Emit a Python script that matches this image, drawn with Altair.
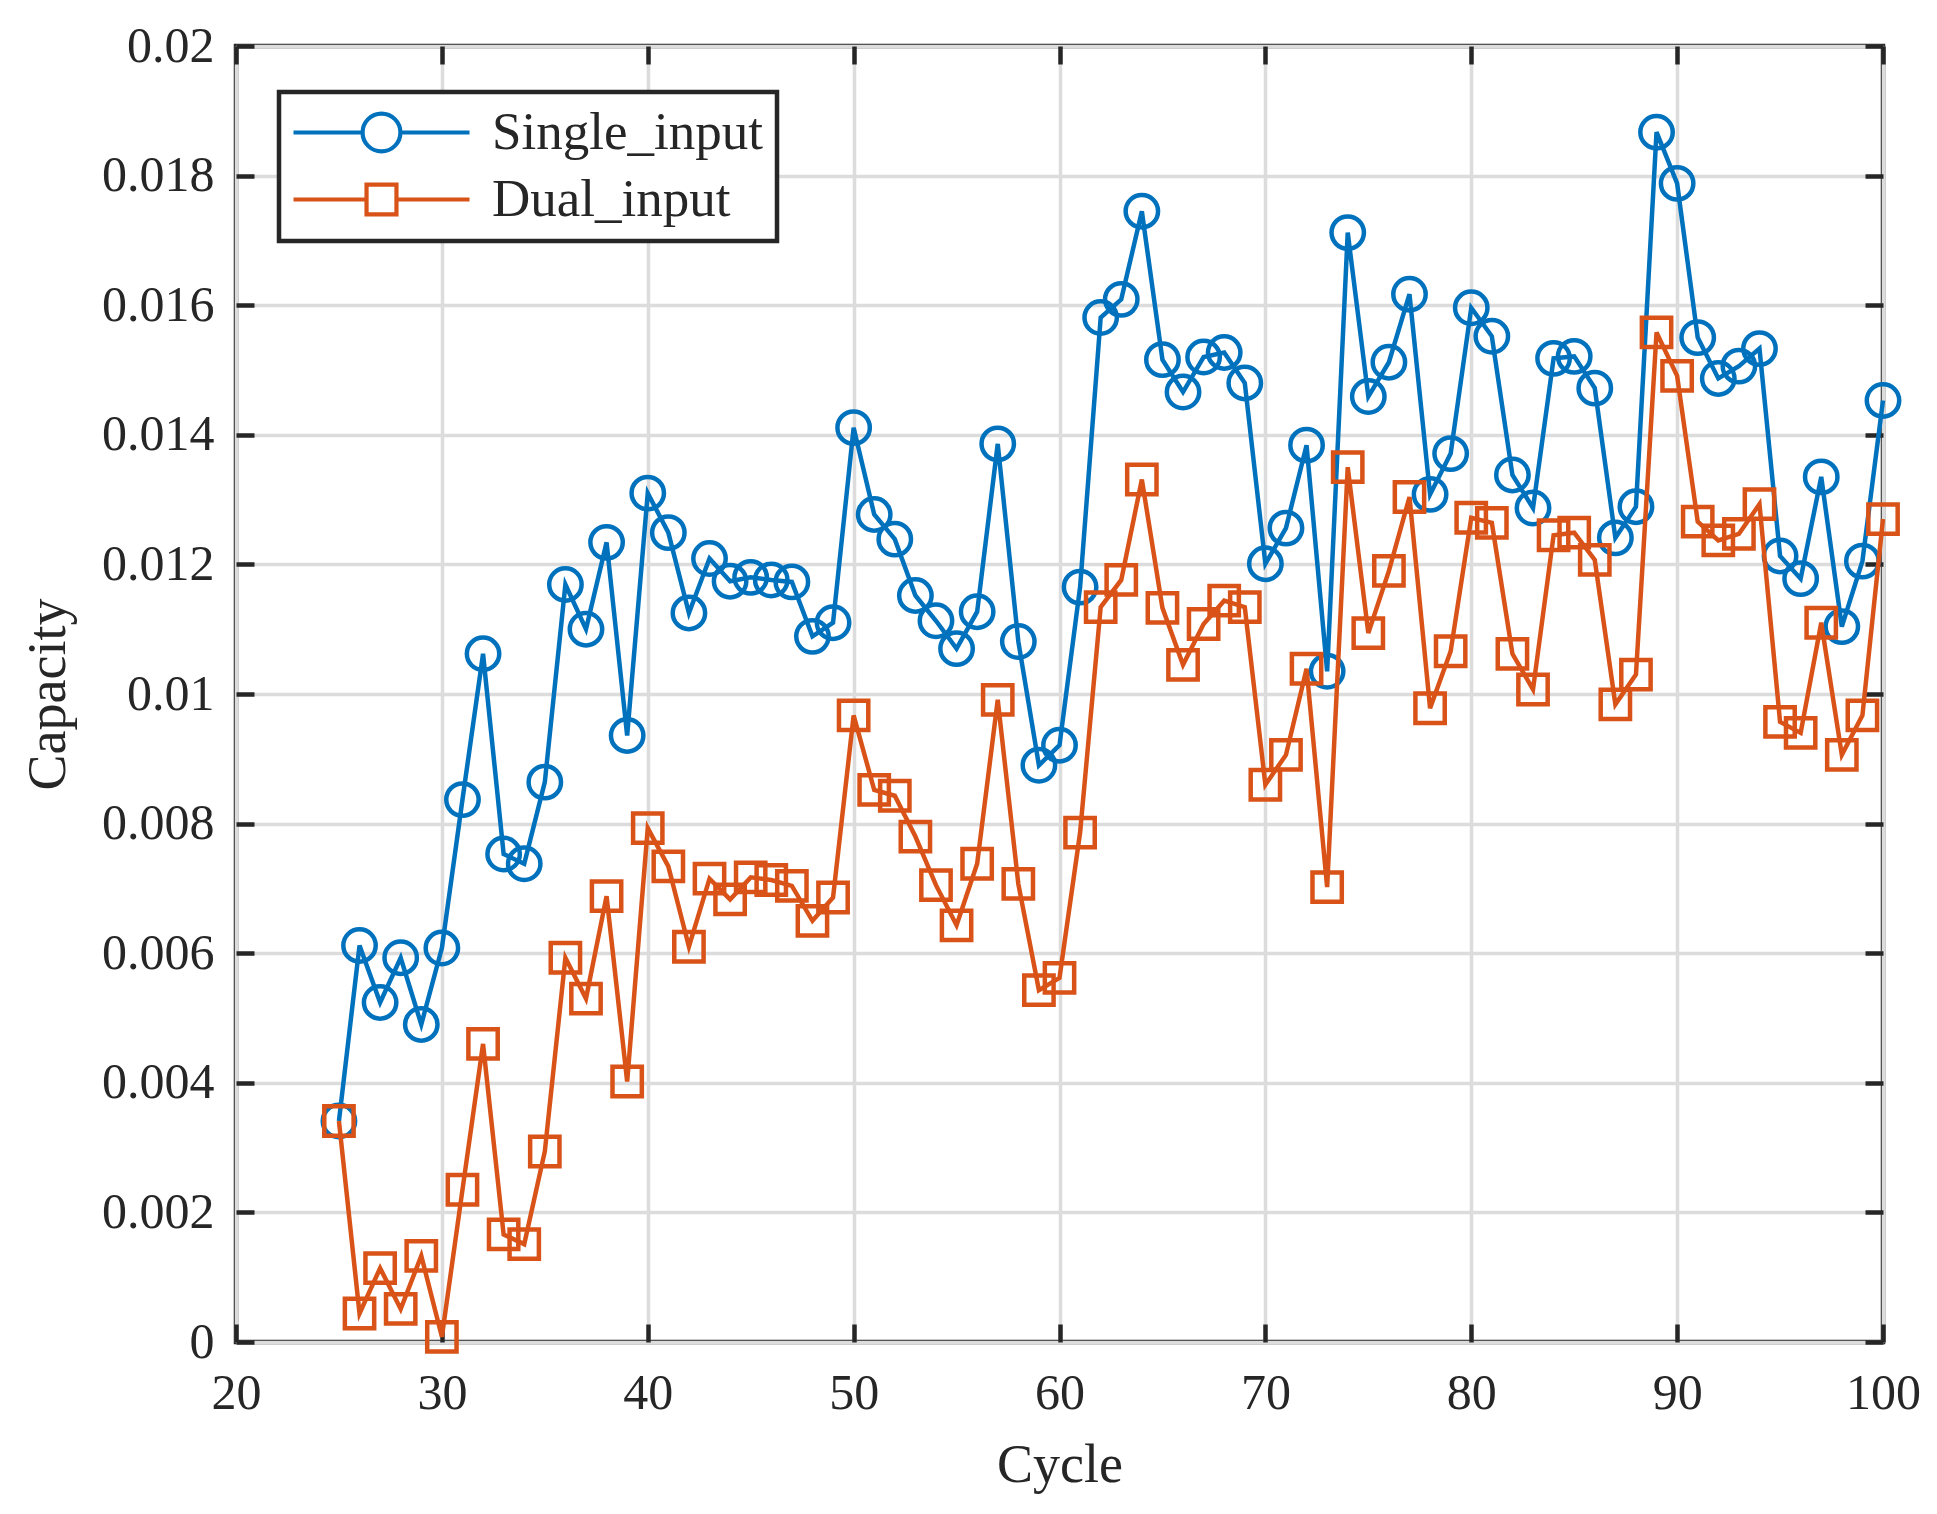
import altair as alt
import pandas as pd

cycles = list(range(25, 101))
single_input = [
    0.00341, 0.00612, 0.00524, 0.00593, 0.00490, 0.00608, 0.00837, 0.01062, 0.00753, 0.00738,
    0.00864, 0.01169, 0.01100, 0.01234, 0.00936, 0.01310, 0.01249, 0.01125, 0.01209, 0.01174,
    0.01180, 0.01176, 0.01173, 0.01089, 0.01110, 0.01411, 0.01277, 0.01239, 0.01152, 0.01113,
    0.01070, 0.01127, 0.01386, 0.01081, 0.00890, 0.00921, 0.01165, 0.01581, 0.01609, 0.01745,
    0.01516, 0.01466, 0.01520, 0.01527, 0.01480, 0.01201, 0.01256, 0.01384, 0.01035, 0.01712,
    0.01459, 0.01512, 0.01617, 0.01308, 0.01371, 0.01596, 0.01552, 0.01338, 0.01287, 0.01518,
    0.01521, 0.01472, 0.01241, 0.01289, 0.01867, 0.01788, 0.01550, 0.01487, 0.01506, 0.01533,
    0.01213, 0.01178, 0.01335, 0.01104, 0.01205, 0.01453,
]
dual_input = [
    0.00341, 0.00044, 0.00114, 0.00051, 0.00133, 0.00008, 0.00235, 0.00460, 0.00166, 0.00151,
    0.00294, 0.00593, 0.00530, 0.00688, 0.00402, 0.00793, 0.00734, 0.00610, 0.00715, 0.00683,
    0.00717, 0.00713, 0.00704, 0.00650, 0.00686, 0.00967, 0.00852, 0.00843, 0.00780, 0.00705,
    0.00643, 0.00738, 0.00991, 0.00707, 0.00543, 0.00562, 0.00786, 0.01134, 0.01176, 0.01331,
    0.01133, 0.01045, 0.01108, 0.01144, 0.01134, 0.00860, 0.00906, 0.01039, 0.00702, 0.01350,
    0.01094, 0.01190, 0.01304, 0.00978, 0.01066, 0.01272, 0.01264, 0.01062, 0.01007, 0.01245,
    0.01249, 0.01207, 0.00984, 0.01030, 0.01558, 0.01491, 0.01266, 0.01237, 0.01247, 0.01293,
    0.00957, 0.00940, 0.01110, 0.00906, 0.00967, 0.01270,
]
series_names = ["Single_input", "Dual_input"]
series_colors = ["#0072BD", "#D95319"]
x_ticks = [20, 30, 40, 50, 60, 70, 80, 90, 100]
y_ticks = [0, 0.002, 0.004, 0.006, 0.008, 0.01, 0.012, 0.014, 0.016, 0.018, 0.02]

df = pd.DataFrame({
    "Cycle": cycles * 2,
    "Capacity": single_input + dual_input,
    "Series": [series_names[0]] * len(single_input) + [series_names[1]] * len(dual_input),
})

W, H = 1647, 1296
FONT = "Liberation Serif"
TXT = "#262626"
LW = 4.5

xs = alt.Scale(domain=[20, 100], nice=False, zero=False)
ys = alt.Scale(domain=[0, 0.02], nice=False)

# legend symbols: line with marker in the middle (unit = 22 px)
circle_path = ("M -4 0 L -0.86 0 M 0.86 0 L 4 0 "
               "M -0.86 0 A 0.86 0.86 0 1 0 0.86 0 A 0.86 0.86 0 1 0 -0.86 0")
square_path = ("M -4 0 L -0.68 0 M 0.68 0 L 4 0 "
               "M -0.68 -0.68 L 0.68 -0.68 L 0.68 0.68 L -0.68 0.68 Z")

base = alt.Chart(df)
single_df = base.transform_filter(alt.datum.Series == series_names[0])
dual_df = base.transform_filter(alt.datum.Series == series_names[1])


def tick_axis(orient, offset, values):
    return alt.Axis(orient=orient, offset=offset, values=values, labels=False, grid=False,
                    domain=False, ticks=True, tickSize=18, tickWidth=4.5, tickColor=TXT,
                    title=None)


main_x = alt.X("Cycle:Q", scale=xs, axis=alt.Axis(
    orient="bottom", values=x_ticks, grid=True, ticks=False, domain=False, labelFlush=False,
    labelFont=FONT, labelFontSize=50, labelColor=TXT, labelPadding=26,
    title="Cycle", titleFont=FONT, titleFontSize=54, titleColor=TXT,
    titleFontWeight="normal", titlePadding=20))
main_y = alt.Y("Capacity:Q", scale=ys, axis=alt.Axis(
    orient="left", values=y_ticks, format="~g", grid=True, ticks=False, domain=False,
    labelFlush=False, labelFont=FONT, labelFontSize=50, labelColor=TXT, labelPadding=22,
    title="Capacity", titleFont=FONT, titleFontSize=54, titleColor=TXT,
    titleFontWeight="normal", titlePadding=26))

single_line = single_df.mark_line(strokeWidth=LW, color=series_colors[0]).encode(
    x=main_x, y=main_y)

single_pts = single_df.mark_point(
    shape="circle", size=1050, filled=False, strokeWidth=LW, opacity=1, color=series_colors[0]
).encode(
    x=alt.X("Cycle:Q", scale=xs, axis=tick_axis("top", -H, x_ticks)),
    y=alt.Y("Capacity:Q", scale=ys, axis=tick_axis("right", -W, y_ticks)),
)

dual_line = dual_df.mark_line(strokeWidth=LW, color=series_colors[1]).encode(
    x=alt.X("Cycle:Q", scale=xs, axis=tick_axis("bottom", -H, x_ticks)),
    y=alt.Y("Capacity:Q", scale=ys, axis=tick_axis("left", -W, y_ticks)),
)

dual_pts = dual_df.mark_point(
    shape="square", size=860, filled=False, strokeWidth=LW, opacity=1, color=series_colors[1]
).encode(
    x=alt.X("Cycle:Q", scale=xs, axis=None),
    y=alt.Y("Capacity:Q", scale=ys, axis=None),
)

legend_kw = dict(
    title=None, orient="none", legendX=43, legendY=46,
    strokeColor=TXT, fillColor="white", padding=14, cornerRadius=0,
    labelFont=FONT, labelFontSize=53, labelColor=TXT, labelOffset=84, labelLimit=400,
    symbolSize=1936, symbolOffset=62, symbolStrokeWidth=4.2, symbolFillColor="transparent",
    symbolOpacity=1, rowPadding=13,
)

legend_layer = base.transform_filter("false").mark_point(
    filled=False, strokeWidth=LW
).encode(
    stroke=alt.Stroke("Series:N", scale=alt.Scale(domain=series_names, range=series_colors),
                      legend=alt.Legend(**legend_kw)),
    shape=alt.Shape("Series:N", scale=alt.Scale(domain=series_names, range=[circle_path, square_path]),
                    legend=alt.Legend(**legend_kw)),
)

chart = alt.layer(single_line, single_pts, dual_line, dual_pts, legend_layer).resolve_axis(
    x="independent", y="independent"
).properties(
    width=W, height=H,
    autosize=alt.AutoSizeParams(type="none"),
    padding={"left": 228, "top": 38, "right": 46, "bottom": 164},
    background="white",
).configure_view(
    stroke=TXT, strokeWidth=4.5
).configure_axis(
    gridColor="#dcdcdc", gridWidth=3.5, gridOpacity=1
).configure_legend(
    strokeWidth=4.5
)

chart.save("out.html", embed_options={"renderer": "svg", "actions": False})
